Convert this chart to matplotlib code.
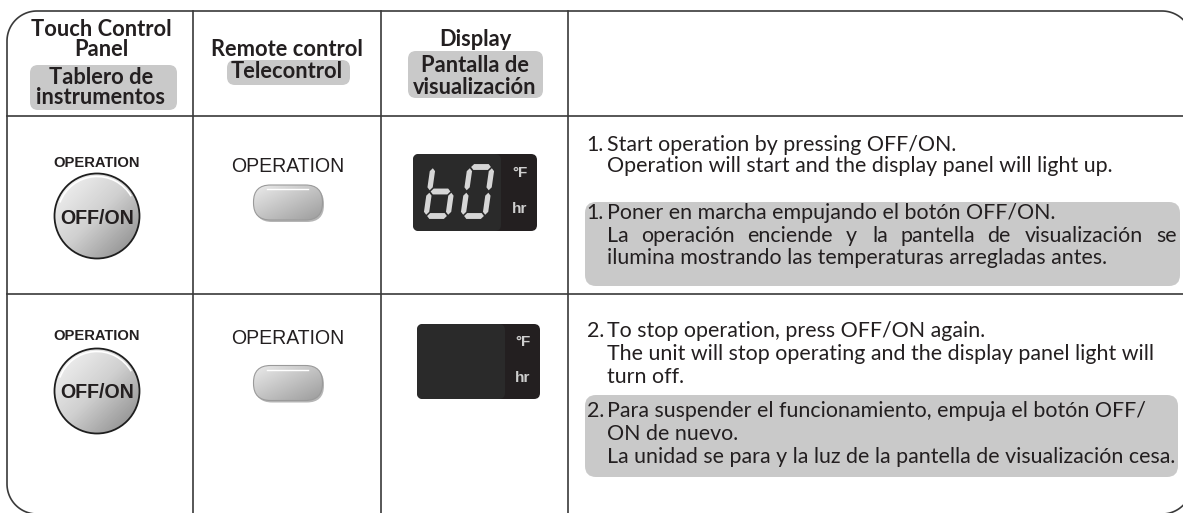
import numpy as np
import matplotlib
matplotlib.use("Agg")
import matplotlib.pyplot as plt
from matplotlib.patches import FancyBboxPatch, Circle, Polygon, Arc
from matplotlib.colors import LinearSegmentedColormap
from matplotlib.textpath import TextPath
from matplotlib.font_manager import FontProperties

# ---- content ----
col_titles = [["Touch Control", "Panel"], ["Remote control"], ["Display"]]
col_titles_es = [["Tablero de", "instrumentos"], ["Telecontrol"], ["Pantalla de", "visualización"]]
button_caption = "OPERATION"
button_label = "OFF/ON"
display_units = ["°F", "hr"]
display_digits = ["b0", ""]
step_numbers = ["1.", "2."]
steps_en = [["Start operation by pressing OFF/ON.",
             "Operation will start and the display panel will light up."],
            ["To stop operation, press OFF/ON again.",
             "The unit will stop operating and the display panel light will",
             "turn off."]]
steps_es = [["Poner en marcha empujando el botón OFF/ON.",
             "La operación enciende y la pantella de visualización se",
             "ilumina mostrando las temperaturas arregladas antes."],
            ["Para suspender el funcionamiento, empuja el botón OFF/",
             "ON de nuevo.",
             "La unidad se para y la luz de la pantella de visualización cesa."]]
justify_es = [[False, True, False], [False, False, False]]

# segments lit for each character of the 7-segment readout
SEGMENTS = {"b": "fegcd", "0": "abcdef"}

W, H = 1183, 513
SERIF = "Lato"
ARIAL = "Liberation Sans"
INK = "#231f20"
RULE = "#3a3a3a"
SHADE = "#c9c9c9"


def text_width(s, size, family, weight="normal"):
    fp = FontProperties(family=family, weight=weight, size=size)
    return TextPath((0, 0), s, prop=fp).get_extents().width * 100 / 72


def fit(s, target, family, weight="normal"):
    return 10 * target / text_width(s, 10, family, weight)


body_fs = min(fit(steps_en[0][1], 538, SERIF),
              fit(steps_en[1][1], 566, SERIF),
              fit(steps_es[1][0], 563, SERIF),
              fit(steps_es[1][2], 563, SERIF))
head_fs = fit(col_titles_es[0][1], 127, SERIF, "bold")
cap_b_fs = fit(button_caption, 85, ARIAL, "bold")
cap_r_fs = fit(button_caption, 111, ARIAL)
lab_fs = fit(button_label, 72, ARIAL, "bold")

fig = plt.figure(figsize=(W / 100, H / 100), dpi=100)
ax = fig.add_axes([0, 0, 1, 1])
ax.set_xlim(0, W)
ax.set_ylim(H, 0)
ax.axis("off")

# ---- frame ----
def corner(cx, cy, a0, a1, r=30):
    t = np.radians(np.linspace(a0, a1, 30))
    return list(cx + r * np.cos(t)), list(cy + r * np.sin(t))

L, T, Rt, B = 7, 11, 1192, 514
fx, fy = [Rt], [B + 30]
for cx, cy, a0, a1 in [(Rt - 30, B - 30, 0, 90), (L + 30, B - 30, 90, 180),
                       (L + 30, T + 30, 180, 270), (Rt - 30, T + 30, 270, 360)]:
    xs, ys = corner(cx, cy, a0, a1)
    fx += xs
    fy += ys
ax.plot(fx, fy, color=RULE, lw=1.2, solid_capstyle="butt")
for x in [193, 381, 568]:
    ax.plot([x, x], [T, H + 5], color=RULE, lw=1.2)
for y in [116, 294]:
    ax.plot([L, Rt], [y, y], color=RULE, lw=1.2)

# ---- header ----
def shaded_box(x0, y0, x1, y1, r=8):
    ax.add_patch(FancyBboxPatch((x0, y0), x1 - x0, y1 - y0,
                                boxstyle="round,pad=0,rounding_size=%d" % r,
                                fc=SHADE, ec="none"))

hx = [101, 287, 475]
h_en_y = [[29, 50], [50], [39]]
h_es_y = [[77, 98], [72], [66, 87]]
h_box = [(30, 65, 177, 110), (227, 60, 350, 85), (408, 51, 543, 98)]
for i in range(3):
    shaded_box(*h_box[i])
    for s, y in zip(col_titles[i], h_en_y[i]):
        ax.text(hx[i], y, s, ha="center", va="center", fontsize=head_fs,
                fontweight="bold", family=SERIF, color=INK)
    for s, y in zip(col_titles_es[i], h_es_y[i]):
        ax.text(hx[i], y, s, ha="center", va="center", fontsize=head_fs,
                fontweight="bold", family=SERIF, color=INK)

# ---- buttons ----
btn_cmap = LinearSegmentedColormap.from_list("btn", ["#f8f8f8", "#d0d0d0", "#858585"])
pill_cmap = LinearSegmentedColormap.from_list("pill", ["#ececec", "#c4c4c4", "#9c9c9c"])


def gradient_fill(patch, x0, x1, y0, y1, cmap):
    u, v = np.meshgrid(np.linspace(0, 1, 120), np.linspace(0, 1, 120))
    z = (u + v) / 2
    im = ax.imshow(z, cmap=cmap, extent=(x0, x1, y1, y0), origin="upper",
                   interpolation="bilinear", zorder=2)
    im.set_clip_path(patch)


touch_cap_y = [163, 336]
touch_c = [(97, 216), (97, 391)]
remote_cap_y = [166, 338]
pill_c = [(288, 202.5), (288, 383)]
R = 42.5
for k in range(2):
    ax.text(97, touch_cap_y[k], button_caption, ha="center", va="center",
            fontsize=cap_b_fs, fontweight="bold", family=ARIAL, color=INK)
    cx, cy = touch_c[k]
    circ = Circle((cx, cy), R, fc="none", ec="#1e1e1e", lw=1.3, zorder=3)
    ax.add_patch(circ)
    gradient_fill(circ, cx - R, cx + R, cy - R, cy + R, btn_cmap)
    ax.add_patch(Arc((cx, cy), 2 * R - 6, 2 * R - 6, theta1=200, theta2=330,
                     color="white", lw=1.2, zorder=3))
    ax.text(cx, cy + 2, button_label, ha="center", va="center", fontsize=lab_fs,
            fontweight="bold", family=ARIAL, color=INK, zorder=4)

    ax.text(288, remote_cap_y[k], button_caption, ha="center", va="center",
            fontsize=cap_r_fs, family=ARIAL, color=INK)
    px, py = pill_c[k]
    pw, ph = 69, 35
    ax.add_patch(FancyBboxPatch((px - pw / 2 + 1.5, py - ph / 2 + 2), pw, ph,
                                boxstyle="round,pad=0,rounding_size=17",
                                fc="#b5b5b5", ec="none", zorder=1.5))
    pill = FancyBboxPatch((px - pw / 2, py - ph / 2), pw, ph,
                          boxstyle="round,pad=0,rounding_size=17",
                          fc="none", ec="#9a9a9a", lw=0.8, zorder=3)
    ax.add_patch(pill)
    gradient_fill(pill, px - pw / 2, px + pw / 2, py - ph / 2, py + ph / 2, pill_cmap)
    ax.plot([px - pw / 2 + 14, px + pw / 2 - 14], [py - ph / 2 + 4] * 2,
            color="white", lw=1.0, zorder=3)

# ---- displays ----
disp = [(413, 154, 537, 231, 501), (417, 324, 540, 399, 505)]
unit_x = [520, 523]
unit_y = [(173, 209), (342, 378)]


def seg_poly(name, t=0.24):
    # unit digit: u in [0,1] across, v in [0,2] downward
    h = t / 2
    g = 0.05
    if name in "agd":
        v = {"a": 0, "g": 1, "d": 2}[name]
        return [(g, v), (h + g, v - h), (1 - h - g, v - h), (1 - g, v),
                (1 - h - g, v + h), (h + g, v + h)]
    u = 0 if name in "fe" else 1
    va, vb = (0, 1) if name in "fb" else (1, 2)
    return [(u, va + g), (u + h, va + h + g), (u + h, vb - h - g), (u, vb - g),
            (u - h, vb - h - g), (u - h, va + h + g)]


def draw_digit(ch, x0, y0, w, hgt, slant):
    for s in SEGMENTS.get(ch, ""):
        pts = [(x0 + u * w + (2 - v) / 2 * slant, y0 + v * hgt / 2)
               for u, v in seg_poly(s)]
        ax.add_patch(Polygon(pts, closed=True, fc="#d6d6d6", ec="none", zorder=5))


for k in range(2):
    x0, y0, x1, y1, xi = disp[k]
    ax.add_patch(FancyBboxPatch((x0, y0), x1 - x0, y1 - y0,
                                boxstyle="round,pad=0,rounding_size=6",
                                fc="#231f20", ec="none", zorder=3))
    ax.add_patch(FancyBboxPatch((x0, y0), xi - x0, y1 - y0,
                                boxstyle="round,pad=0,rounding_size=6",
                                fc="#2a2a2a", ec="none", zorder=3.5))
    for s, y in zip(display_units, unit_y[k]):
        ax.text(unit_x[k], y, s, ha="center", va="center", fontsize=11,
                fontweight="bold", family=ARIAL, color="#cfcfcf", zorder=5)
    for j, ch in enumerate(display_digits[k]):
        draw_digit(ch, x0 + 13 + j * 37, y0 + 13, 22, 49, 7)

# ---- step texts ----
num_x, txt_x, right_x = 604, 607, 1175
en_y = [[145, 166], [331, 354, 377]]
es_y = [[213, 236, 258], [411, 434, 457]]
es_box = [(585, 202, 1180, 286), (585, 395, 1178, 477)]
for k in range(2):
    shaded_box(*es_box[k], r=11)
    ax.text(num_x, en_y[k][0], step_numbers[k], ha="right", va="center",
            fontsize=body_fs, family=SERIF, color=INK)
    for s, y in zip(steps_en[k], en_y[k]):
        ax.text(txt_x, y, s, ha="left", va="center", fontsize=body_fs,
                family=SERIF, color=INK)
    ax.text(num_x, es_y[k][0], step_numbers[k], ha="right", va="center",
            fontsize=body_fs, family=SERIF, color=INK)
    for s, y, just in zip(steps_es[k], es_y[k], justify_es[k]):
        if not just:
            ax.text(txt_x, y, s, ha="left", va="center", fontsize=body_fs,
                    family=SERIF, color=INK)
            continue
        words = s.split()
        widths = [text_width(w, body_fs, SERIF) for w in words]
        gap = (right_x - txt_x - sum(widths)) / (len(words) - 1)
        x = txt_x
        for w, wd in zip(words, widths):
            ax.text(x, y, w, ha="left", va="center", fontsize=body_fs,
                    family=SERIF, color=INK)
            x += wd + gap

fig.savefig("out.png", dpi=100)
